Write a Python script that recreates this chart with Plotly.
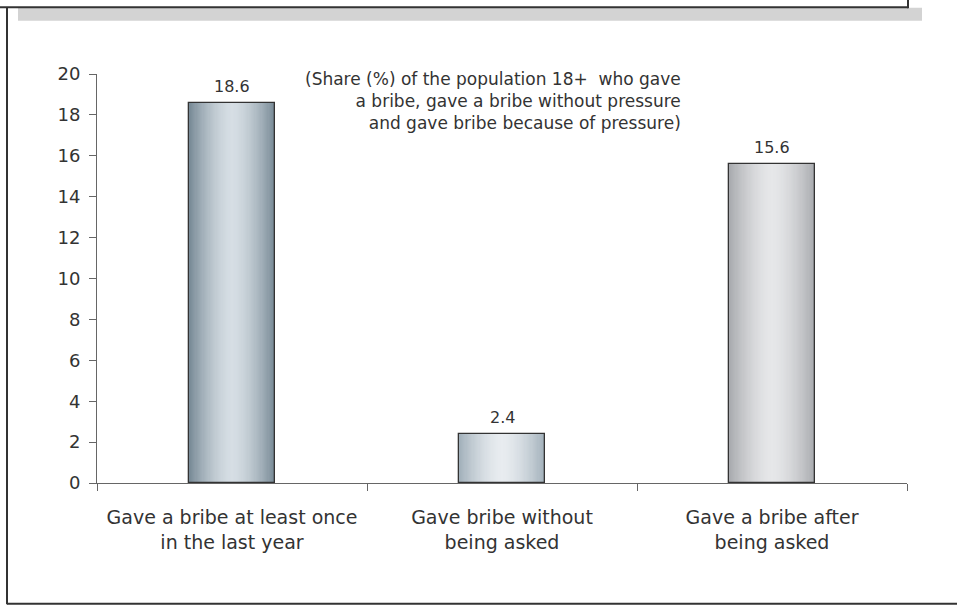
import plotly.graph_objects as go

# Survey results: share (%) of adults 18+ reporting bribery
categories = [
    "Gave a bribe at least once<br>in the last year",
    "Gave bribe without<br>being asked",
    "Gave a bribe after<br>being asked",
]
values = [18.6, 2.4, 15.6]
value_labels = ["18.6", "2.4", "15.6"]
y_ticks = [0, 2, 4, 6, 8, 10, 12, 14, 16, 18, 20]

note_text = ("(Share (%) of the population 18+  who gave<br>"
             "a bribe, gave a bribe without pressure<br>"
             "and gave bribe because of pressure)")

# Edge / centre colours for the cylinder-like shading of each bar
edge_colors = [(122, 140, 152), (164, 178, 188), (170, 172, 176)]
center_colors = [(214, 222, 228), (232, 236, 240), (230, 231, 233)]

FONT = "DejaVu Sans"
TEXT = "#333333"
BAR_W = 0.315
LAYERS = 36


def mix(a, b, t):
    return "rgb(%d,%d,%d)" % tuple(round(a[i] + (b[i] - a[i]) * t) for i in range(3))


fig = go.Figure()

# Stack narrowing bars on top of each other to build a horizontal gradient
for k in range(LAYERS):
    frac = 1 - k / LAYERS              # relative half-width of this layer
    t = 1 - frac ** 1.6                # 0 at the edge, 1 at the centre
    cols = [mix(edge_colors[i], center_colors[i], t) for i in range(3)]
    fig.add_trace(go.Bar(
        x=categories, y=values, width=BAR_W * frac,
        marker=dict(color=cols, line=dict(width=0)),
        hoverinfo="skip", showlegend=False,
    ))

# Outline drawn last so the inner layers do not cover it
fig.add_trace(go.Bar(
    x=categories, y=values, width=BAR_W,
    marker=dict(color="rgba(0,0,0,0)", line=dict(color="#333333", width=1.3)),
    showlegend=False,
))

for cat, v, lab in zip(categories, values, value_labels):
    fig.add_annotation(x=cat, y=v, text=lab, showarrow=False,
                       xref="x", yref="y", yanchor="bottom", yshift=5,
                       font=dict(family=FONT, size=16, color=TEXT))

fig.add_annotation(x=0.7235, y=1.0, xref="paper", yref="paper",
                   xanchor="right", yanchor="top", align="right",
                   text=note_text, showarrow=False, yshift=7,
                   font=dict(family=FONT, size=17, color=TEXT))

# Page frame: offset grey band under the title box, left and bottom rules
L, B, W, H = 97, 123.5, 810, 410  # plot area geometry in pixels


def px(xp):
    return (xp - L) / W


def py(yp):
    return (607 - B - yp) / H


frame = [
    dict(type="rect", x0=px(18), x1=px(922), y0=py(20), y1=py(7),
         fillcolor="#d3d3d3", line=dict(width=0)),
    dict(type="line", x0=px(-5), x1=px(908), y0=py(6.5), y1=py(6.5),
         line=dict(color="#333333", width=2)),
    dict(type="line", x0=px(908), x1=px(908), y0=py(-5), y1=py(7.5),
         line=dict(color="#333333", width=2)),
    dict(type="line", x0=px(7), x1=px(7), y0=py(7), y1=py(605),
         line=dict(color="#333333", width=2)),
    dict(type="line", x0=px(7), x1=px(965), y0=py(604.5), y1=py(604.5),
         line=dict(color="#333333", width=2)),
]
for s in frame:
    s.update(xref="paper", yref="paper", layer="above")
    fig.add_shape(**s)

fig.update_layout(
    width=957, height=607,
    margin=dict(l=L, r=957 - L - W, t=607 - B - H, b=B),
    paper_bgcolor="white", plot_bgcolor="white",
    barmode="overlay", bargap=0,
    font=dict(family=FONT, color=TEXT),
)
fig.update_xaxes(
    type="category", range=[-0.5, 2.5],
    showline=True, linecolor="#666666", linewidth=1,
    ticks="outside", tickson="boundaries", ticklen=7, tickcolor="#666666",
    tickfont=dict(family=FONT, size=19, color=TEXT),
    ticklabelstandoff=17, showgrid=False, zeroline=False,
)
fig.update_yaxes(
    range=[0, 20], tickvals=y_ticks,
    showline=True, linecolor="#666666", linewidth=1,
    ticks="outside", ticklen=7, tickcolor="#666666",
    tickfont=dict(family=FONT, size=18, color=TEXT),
    ticklabelstandoff=5, showgrid=False, zeroline=False,
)

fig.write_html("out.html")
